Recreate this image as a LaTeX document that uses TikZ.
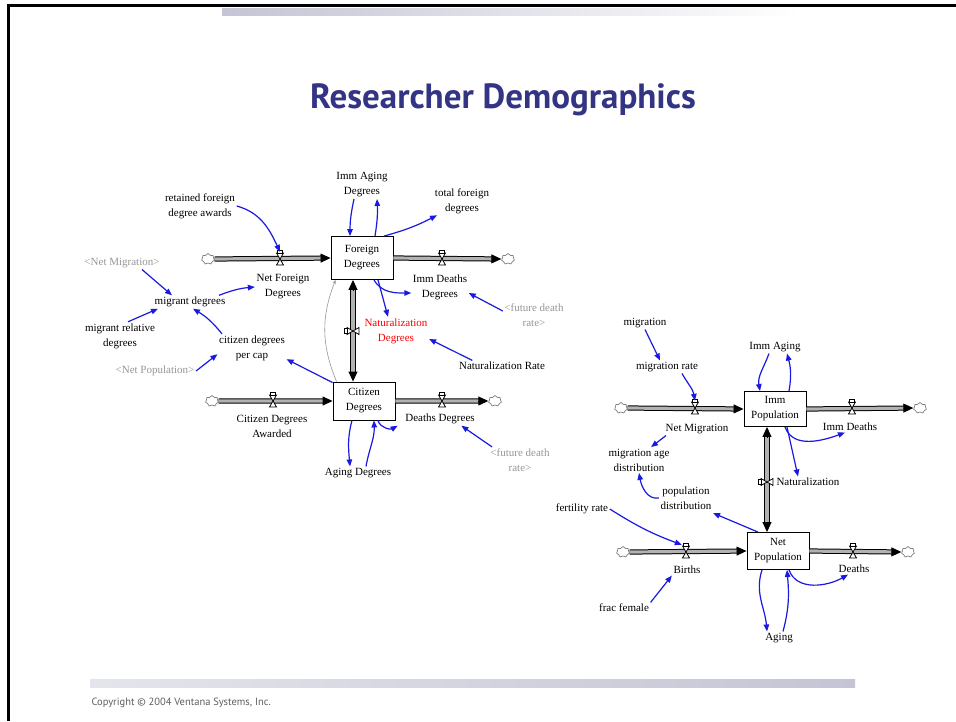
\documentclass[tikz,border=0pt]{standalone}
\usepackage{fontspec}
\setmainfont{Liberation Serif}
\newfontfamily\ptsans{PT Sans}
\usetikzlibrary{arrows.meta,shapes.symbols,calc}
\definecolor{navy}{RGB}{52,52,132}
\definecolor{linkblue}{RGB}{25,25,225}
\definecolor{pipegray}{RGB}{178,178,178}
\definecolor{ghost}{RGB}{150,150,150}
\definecolor{barcol}{RGB}{196,196,212}
\definecolor{copygray}{RGB}{95,95,95}
\newcommand{\lblfont}{\fontsize{11}{15}\selectfont}
\newcommand{\flowto}[2]{%
  \draw[pipeline, shorten >=8pt] (#1) -- (#2);
  \draw[flowtip] ($(#2)!10pt!(#1)$) -- (#2);}
\begin{document}
\begin{tikzpicture}[x=1pt,y=-1pt,
  stock/.style={draw, line width=0.9pt, fill=white, minimum width=62pt, minimum height=38pt, align=center, font=\lblfont, inner sep=1pt},
  lbl/.style={font=\lblfont, align=center, inner sep=1.5pt},
  ghostlbl/.style={lbl, text=ghost},
  redlbl/.style={lbl, text=red},
  info/.style={draw=linkblue, line width=1.2pt, -{Triangle[length=7pt,width=5.5pt]}},
  pipeline/.style={draw=black, line width=1pt, double=pipegray, double distance=3.2pt},
  flowtip/.style={line width=0.9pt, -{Triangle[length=10pt,width=9pt]}},
  cloudn/.style={cloud, cloud puffs=7, aspect=1.2, draw=gray, fill=white, minimum width=13pt, minimum height=11pt, inner sep=0pt, line width=0.7pt},
  vh/.style={inner sep=0pt, minimum width=8pt, minimum height=14pt},
  vv/.style={inner sep=0pt, minimum width=14pt, minimum height=8pt},
  hourglass/.pic={
    \draw[line width=0.8pt, fill=white] (-3.5,-6) -- (3.5,-6) -- (-3.5,6) -- (3.5,6) -- cycle;
    \draw[line width=0.7pt, fill=white] (-2.5,-6) rectangle (2.5,-8.5);}
]
\useasboundingbox (0,0) rectangle (956,721);
\fill[white] (0,0) rectangle (956,721);
% frame and bars
\draw[line width=3pt] (7,5.5) -- (956,5.5);
\draw[line width=3pt] (8.5,4) -- (8.5,721);
\shade[left color=barcol, right color=white] (222,8.5) rectangle (800,15);
\shade[left color=white!55!barcol, right color=barcol] (90,679) rectangle (855,687);
\node[font=\ptsans\bfseries\fontsize{35}{40}\selectfont, text=navy] (title) at (503,100) {Researcher Demographics};
\node[anchor=west, font=\ptsans\fontsize{10.5}{12}\selectfont, text=copygray] (copy) at (88,703) {Copyright © 2004 Ventana Systems, Inc.};

% ---------- left model ----------
\node[stock, minimum height=43pt] (F) at (362,258) {Foreign\\Degrees};
\node[stock] (C) at (364,401) {Citizen\\Degrees};
\node[cloudn] (cF1) at (208,259) {};
\node[cloudn] (cF2) at (508,259) {};
\node[cloudn] (cC1) at (212,401) {};
\node[cloudn] (cC2) at (495,401) {};
\node[vh] (vNFD) at (280,259) {};
\node[vh] (vIDD) at (442,259) {};
\node[vh] (vCDA) at (273,401) {};
\node[vh] (vDD) at (442,401) {};
\node[vv] (vND) at (353,331) {};

\node[lbl] (lNFD) at (283,287) {Net Foreign\\Degrees};
\node[lbl] (lIDD) at (440,287) {Imm Deaths\\Degrees};
\node[lbl] (lCDA) at (272,426) {Citizen Degrees\\Awarded};
\node[lbl] (lDD) at (440,419) {Deaths Degrees};
\node[redlbl] (lND) at (396,331) {Naturalization\\Degrees};
\node[lbl] (lIAD) at (362,185) {Imm Aging\\Degrees};
\node[lbl] (ltfd) at (462,201) {total foreign\\degrees};
\node[lbl] (lrfda) at (200,206) {retained foreign\\degree awards};
\node[ghostlbl] (lnm) at (122,263) {<Net Migration>};
\node[lbl] (lmd) at (190,302) {migrant degrees};
\node[lbl] (lmrd) at (120,336) {migrant relative\\degrees};
\node[lbl] (lcdpc) at (252,348) {citizen degrees\\per cap};
\node[ghostlbl] (lnp) at (155,371) {<Net Population>};
\node[lbl] (lnr) at (502,366) {Naturalization Rate};
\node[ghostlbl] (lfdr1) at (534,315) {<future death\\rate>};
\node[ghostlbl] (lfdr2) at (520,460) {<future death\\rate>};
\node[lbl] (lAD) at (358,473) {Aging Degrees};

% pipes left
\flowto{cF1.east}{F.west}
\flowto{F.east}{cF2.west}
\flowto{cC1.east}{C.west}
\flowto{C.east}{cC2.west}
\coordinate (fcTop) at (vND |- F.south);
\coordinate (fcBot) at (vND |- C.north);
\draw[pipeline, shorten >=8pt, shorten <=8pt] (fcTop) -- (fcBot);
\draw[flowtip] ($(fcTop)!10pt!(fcBot)$) -- (fcTop);
\draw[flowtip] ($(fcBot)!10pt!(fcTop)$) -- (fcBot);
\pic at (vNFD) {hourglass};
\pic at (vIDD) {hourglass};
\pic at (vCDA) {hourglass};
\pic at (vDD) {hourglass};
\pic[rotate=90] at (vND) {hourglass};

\draw[ghost, line width=0.6pt, -{Stealth[length=4pt,width=3pt]}] ([xshift=4pt]C.north west) to[bend left=22] ([xshift=5pt]F.south west);

% info links left
\draw[info] (lrfda.east) to[out=-15, in=115] (vNFD.north);
\draw[info] ([xshift=20pt]lnm.south) -- ([xshift=-18pt]lmd.north);
\draw[info] ([xshift=-8pt]lmd.north east) to[bend left=8] (lNFD.west);
\draw[info] ([xshift=8pt]lmrd.north) -- ([xshift=-32pt]lmd.south);
\draw[info] ([xshift=-30pt]lcdpc.north) to[bend right=10] ([xshift=3pt]lmd.south);
\draw[info] (lnp.east) -- ([yshift=8pt]lcdpc.south west);
\draw[info] ([yshift=-1pt]C.north west) -- ([yshift=3pt]lcdpc.south east);
\draw[info] ([xshift=-8pt]lIAD.south) to[bend right=6] ([xshift=-12pt]F.north);
\draw[info] ([xshift=13pt]F.north) to[bend right=6] ([xshift=15pt]lIAD.south);
\draw[info] ([xshift=22pt]F.north) to[bend right=6] ([xshift=-25pt]ltfd.south);
\draw[info] ([xshift=12pt]F.south) to[out=-60, in=180] ([yshift=-6pt]lIDD.west);
\draw[info] ([xshift=16pt]F.south) -- ([xshift=-8pt]lND.north);
\draw[info] ([yshift=4pt]lfdr1.west) -- ([yshift=-6pt]lIDD.east);
\draw[info] ([xshift=15pt]lnr.north west) -- ([yshift=-8pt]lND.east);
\draw[info] ([xshift=-12pt]C.south) to[out=-105, in=95] ([xshift=-8pt]lAD.north);
\draw[info] ([xshift=8pt]lAD.north) to[out=80, in=-88] ([xshift=10pt]C.south);
\draw[info] ([xshift=14pt]C.south) to[out=-75, in=-150] ([xshift=-6pt]lDD.south west);
\draw[info] ([xshift=-28pt]lfdr2.north) -- ([xshift=-15pt]lDD.south east);

% ---------- right model ----------
\node[stock, minimum height=35pt] (IP) at (775,409) {Imm\\Population};
\node[stock, minimum height=37pt] (NP) at (778,551) {Net\\Population};
\node[cloudn] (cI1) at (621,408) {};
\node[cloudn] (cI2) at (920,408) {};
\node[cloudn] (cN1) at (623,552) {};
\node[cloudn] (cN2) at (908,552) {};
\node[vh] (vNM) at (695,408) {};
\node[vh] (vID) at (852,408) {};
\node[vh] (vB) at (686,552) {};
\node[vh] (vD) at (853,552) {};
\node[vv] (vNat) at (767,482) {};

\node[lbl] (lNM) at (697,429) {Net Migration};
\node[lbl] (lID) at (850,427) {Imm Deaths};
\node[lbl] (lB) at (687,570) {Births};
\node[lbl] (lD) at (854,569) {Deaths};
\node[lbl] (lNat) at (808,482) {Naturalization};
\node[lbl] (lIA) at (775,347) {Imm Aging};
\node[lbl] (lmig) at (645,323) {migration};
\node[lbl] (lmr) at (667,367) {migration rate};
\node[lbl] (lmad) at (639,460) {migration age\\distribution};
\node[lbl] (lpd) at (686,498) {population\\distribution};
\node[lbl] (lfr) at (582,509) {fertility rate};
\node[lbl] (lff) at (624,608) {frac female};
\node[lbl] (lA) at (779,638) {Aging};

\flowto{cI1.east}{IP.west}
\flowto{IP.east}{cI2.west}
\flowto{cN1.east}{NP.west}
\flowto{NP.east}{cN2.west}
\coordinate (inTop) at (vNat |- IP.south);
\coordinate (inBot) at (vNat |- NP.north);
\draw[pipeline, shorten >=8pt, shorten <=8pt] (inTop) -- (inBot);
\draw[flowtip] ($(inTop)!10pt!(inBot)$) -- (inTop);
\draw[flowtip] ($(inBot)!10pt!(inTop)$) -- (inBot);
\pic at (vNM) {hourglass};
\pic at (vID) {hourglass};
\pic at (vB) {hourglass};
\pic at (vD) {hourglass};
\pic[rotate=90] at (vNat) {hourglass};

\draw[info] (lmig.south) -- ([xshift=-7pt]lmr.north);
\draw[info] ([xshift=15pt]lmr.south) to[out=-60, in=100] (vNM.north);
\draw[info] ([xshift=2pt]lNM.south west) -- ([xshift=12pt]lmad.north);
\draw[info] (lpd.west) to[out=190, in=-80] (lmad.south);
\draw[info] ([xshift=-20pt]NP.north) -- ([yshift=-2pt]lpd.south east);
\draw[info] ([xshift=-6pt]lIA.south) to[out=-110, in=100] ([xshift=-15pt]IP.north);
\draw[info] ([xshift=14pt]IP.north) to[out=80, in=-75] ([xshift=12pt]lIA.south);
\draw[info] ([xshift=10pt]IP.south) to[out=-70, in=-160] ([xshift=-5pt]lID.south);
\draw[info] ([xshift=12pt]IP.south) -- ([xshift=-10pt]lNat.north);
\draw[info] (lfr.east) to[bend right=6] (vB.north west);
\draw[info] (lff.north east) -- (lB.south west);
\draw[info] ([xshift=-16pt]NP.south) to[out=-108, in=95] ([xshift=-12pt]lA.north);
\draw[info] ([xshift=4pt]lA.north) to[out=75, in=-85] ([xshift=9pt]NP.south);
\draw[info] ([xshift=11pt]NP.south) to[out=-70, in=-150] ([xshift=-6pt]lD.south);
\end{tikzpicture}
\end{document}
